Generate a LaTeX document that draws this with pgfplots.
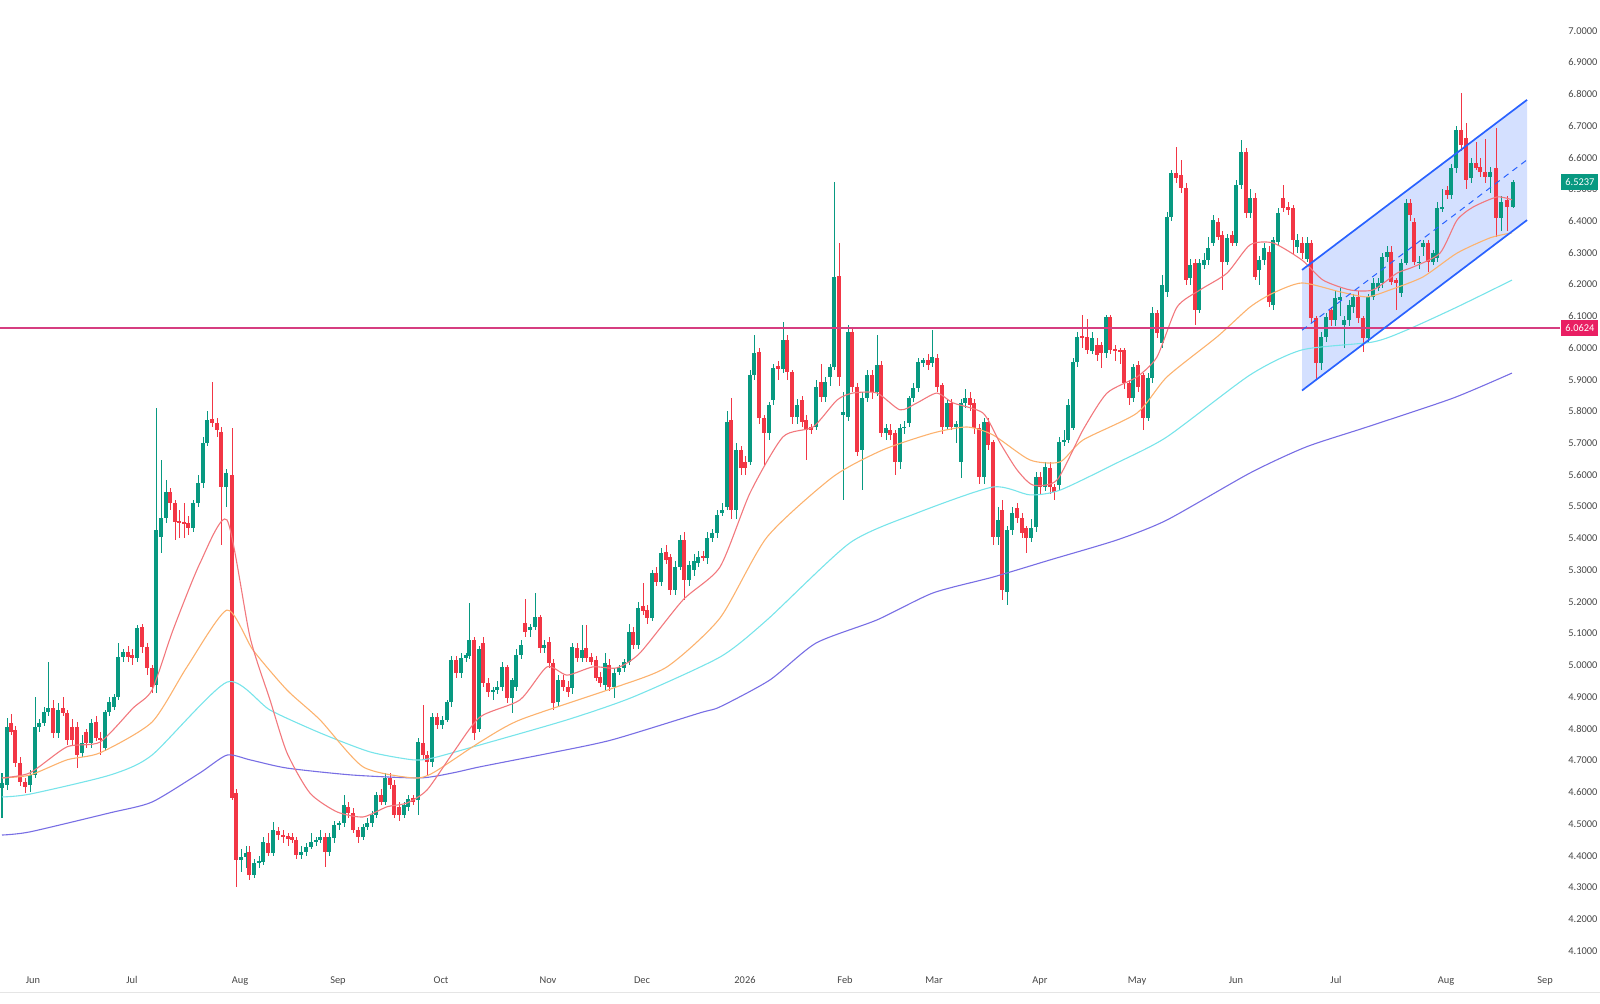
\documentclass[border=0pt]{standalone}
\usepackage{fontspec}
\setmainfont{Carlito}
\usepackage{pgfplots}
\pgfplotsset{compat=1.18}
\usepackage{pgfplotstable}
\definecolor{up}{RGB}{8,153,129}
\definecolor{dn}{RGB}{242,54,69}
\definecolor{maA}{RGB}{242,120,125}
\definecolor{maB}{RGB}{252,178,110}
\definecolor{maC}{RGB}{120,228,234}
\definecolor{maD}{RGB}{120,110,228}
\definecolor{hl}{RGB}{214,62,128}
\definecolor{hlbox}{RGB}{233,30,99}
\definecolor{chan}{RGB}{41,98,255}
\definecolor{lbl}{RGB}{70,70,70}

\pgfplotstableread{
x o h l c
2 4.613 4.66 4.52 4.629
7 4.623 4.834 4.607 4.806
11 4.819 4.845 4.78 4.790
15 4.796 4.81 4.68 4.692
20 4.692 4.71 4.62 4.632
25 4.632 4.645 4.598 4.617
30 4.623 4.67 4.600 4.654
35 4.654 4.900 4.645 4.806
39 4.806 4.83 4.79 4.819
44 4.819 4.87 4.81 4.853
48 4.853 5.010 4.84 4.866
53 4.866 4.89 4.77 4.787
58 4.787 4.88 4.77 4.859
63 4.866 4.90 4.84 4.850
67 4.850 4.86 4.75 4.765
72 4.806 4.83 4.75 4.765
77 4.806 4.82 4.677 4.717
82 4.724 4.78 4.71 4.755
86 4.790 4.80 4.74 4.755
91 4.755 4.83 4.74 4.819
96 4.822 4.84 4.76 4.771
100 4.771 4.79 4.717 4.765
105 4.739 4.86 4.73 4.853
109 4.853 4.90 4.84 4.884
114 4.869 4.91 4.86 4.900
118 4.900 5.07 4.89 5.026
123 5.026 5.05 5.01 5.042
128 5.042 5.06 5.01 5.026
132 5.032 5.05 5.00 5.023
137 5.023 5.127 5.01 5.118
142 5.121 5.13 5.04 5.058
147 5.058 5.07 4.97 4.992
152 4.992 5.00 4.913 4.932
156 4.938 5.811 4.913 5.426
161 5.404 5.647 5.354 5.464
166 5.464 5.584 5.45 5.546
170 5.546 5.56 5.49 5.511
175 5.511 5.52 5.395 5.452
179 5.456 5.49 5.40 5.449
184 5.452 5.51 5.40 5.445
188 5.449 5.47 5.41 5.433
193 5.433 5.52 5.42 5.511
198 5.511 5.60 5.50 5.575
203 5.575 5.72 5.56 5.701
207 5.701 5.80 5.69 5.773
212 5.776 5.893 5.75 5.764
217 5.764 5.78 5.72 5.742
221 5.735 5.75 5.379 5.562
226 5.562 5.62 5.50 5.606
232 5.600 5.748 4.576 4.582
236 4.598 4.61 4.300 4.387
241 4.387 4.42 4.35 4.396
246 4.396 4.43 4.36 4.408
249 4.412 4.43 4.324 4.339
254 4.339 4.39 4.33 4.377
259 4.377 4.40 4.36 4.383
263 4.380 4.46 4.37 4.443
268 4.440 4.47 4.40 4.408
273 4.408 4.506 4.40 4.481
278 4.478 4.49 4.45 4.466
283 4.466 4.48 4.44 4.459
288 4.462 4.47 4.43 4.453
292 4.459 4.47 4.44 4.450
296 4.450 4.46 4.39 4.402
301 4.402 4.43 4.39 4.412
306 4.412 4.44 4.40 4.428
311 4.428 4.47 4.42 4.443
316 4.443 4.46 4.43 4.450
320 4.450 4.48 4.44 4.459
325 4.459 4.47 4.364 4.412
329 4.412 4.47 4.40 4.459
334 4.456 4.51 4.44 4.497
339 4.497 4.51 4.48 4.503
344 4.503 4.591 4.49 4.560
348 4.554 4.57 4.52 4.535
353 4.535 4.55 4.47 4.481
358 4.481 4.49 4.44 4.459
363 4.459 4.50 4.45 4.490
367 4.490 4.52 4.48 4.503
372 4.503 4.54 4.49 4.528
376 4.528 4.60 4.52 4.591
381 4.591 4.61 4.56 4.569
385 4.569 4.66 4.56 4.645
390 4.645 4.66 4.61 4.623
394 4.623 4.64 4.52 4.528
399 4.554 4.57 4.51 4.528
404 4.528 4.57 4.52 4.560
408 4.554 4.59 4.54 4.579
413 4.582 4.59 4.56 4.569
418 4.576 4.77 4.528 4.758
423 4.755 4.875 4.70 4.717
427 4.717 4.73 4.654 4.695
432 4.695 4.85 4.68 4.837
437 4.837 4.85 4.80 4.812
442 4.812 4.84 4.80 4.828
447 4.828 4.89 4.82 4.884
451 4.884 5.03 4.87 5.017
456 5.017 5.03 4.96 4.976
461 4.976 5.04 4.96 5.023
466 5.023 5.04 5.01 5.032
469 5.029 5.196 5.02 5.080
474 5.080 5.09 4.765 4.787
479 4.800 5.06 4.79 5.050
483 5.070 5.09 4.93 4.944
488 4.944 4.96 4.90 4.916
493 4.916 4.93 4.89 4.922
497 4.922 4.95 4.91 4.932
502 4.932 5.01 4.92 4.995
507 4.995 5.00 4.88 4.897
512 4.897 4.96 4.85 4.954
516 4.932 5.05 4.92 5.032
521 5.032 5.08 5.02 5.064
525 5.133 5.21 5.09 5.105
530 5.111 5.13 5.09 5.121
535 5.121 5.228 5.11 5.152
540 5.152 5.16 5.04 5.054
544 5.054 5.08 5.04 5.064
549 5.073 5.09 4.99 5.007
553 5.007 5.02 4.859 4.881
558 4.884 4.97 4.87 4.954
563 4.954 4.97 4.92 4.932
568 4.932 4.95 4.90 4.916
572 4.928 5.07 4.91 5.058
577 5.054 5.07 5.01 5.023
582 5.023 5.127 5.01 5.048
586 5.054 5.127 5.01 5.023
591 5.026 5.04 5.00 5.010
596 5.017 5.03 4.95 4.960
600 4.963 4.98 4.93 4.944
605 4.938 5.04 4.92 5.007
609 5.001 5.02 4.92 4.932
614 4.932 4.99 4.897 4.976
619 4.979 5.00 4.97 4.992
624 4.992 5.02 4.98 5.010
629 5.010 5.13 5.00 5.105
633 5.105 5.12 5.05 5.064
638 5.064 5.20 5.05 5.181
643 5.187 5.26 5.16 5.171
647 5.174 5.19 5.13 5.149
652 5.149 5.30 5.14 5.291
656 5.291 5.31 5.25 5.262
661 5.262 5.37 5.25 5.354
666 5.357 5.38 5.32 5.332
670 5.341 5.35 5.22 5.237
675 5.237 5.33 5.22 5.310
680 5.310 5.41 5.30 5.395
684 5.395 5.42 5.206 5.269
689 5.269 5.33 5.25 5.316
694 5.300 5.35 5.28 5.330
698 5.322 5.36 5.31 5.341
703 5.344 5.36 5.33 5.338
707 5.338 5.42 5.32 5.401
712 5.401 5.43 5.39 5.417
717 5.417 5.49 5.40 5.474
722 5.480 5.51 5.47 5.490
727 5.500 5.80 5.49 5.767
731 5.773 5.842 5.46 5.490
736 5.490 5.70 5.46 5.679
741 5.679 5.69 5.60 5.622
745 5.641 5.66 5.60 5.622
750 5.641 5.93 5.63 5.915
754 5.915 6.041 5.90 5.984
759 5.987 6.00 5.76 5.779
764 5.779 5.79 5.631 5.732
769 5.732 5.83 5.71 5.820
773 5.836 5.95 5.82 5.937
778 5.943 5.96 5.90 5.934
783 5.934 6.082 5.92 6.025
787 6.025 6.04 5.90 5.924
792 5.924 5.93 5.76 5.783
797 5.783 5.84 5.76 5.820
802 5.836 5.85 5.75 5.767
806 5.773 5.79 5.647 5.742
811 5.751 5.76 5.73 5.742
816 5.751 5.90 5.74 5.877
821 5.893 5.95 5.83 5.846
825 5.846 5.91 5.83 5.893
830 5.909 5.95 5.88 5.940
834 5.940 6.523 5.93 6.224
839 6.227 6.331 5.88 5.909
843 5.789 5.86 5.521 5.798
848 5.783 6.072 5.77 6.050
852 6.050 6.06 5.86 5.877
857 5.877 5.89 5.66 5.672
862 5.679 5.86 5.553 5.842
867 5.842 5.93 5.83 5.915
872 5.915 5.93 5.84 5.861
877 5.861 6.041 5.85 5.946
881 5.946 5.96 5.72 5.732
886 5.732 5.76 5.71 5.748
890 5.742 5.76 5.71 5.726
895 5.732 5.74 5.600 5.641
900 5.641 5.76 5.62 5.748
904 5.748 5.77 5.73 5.751
909 5.764 5.85 5.75 5.842
913 5.842 5.89 5.83 5.874
918 5.874 5.97 5.86 5.956
923 5.953 5.97 5.94 5.962
928 5.962 5.98 5.93 5.947
932 5.953 6.057 5.94 5.972
937 5.968 5.98 5.86 5.877
942 5.883 5.89 5.73 5.751
947 5.751 5.84 5.74 5.827
951 5.827 5.84 5.74 5.751
956 5.751 5.77 5.70 5.761
961 5.640 5.84 5.59 5.827
965 5.827 5.87 5.81 5.842
970 5.842 5.86 5.80 5.820
974 5.827 5.84 5.73 5.748
979 5.748 5.76 5.57 5.593
984 5.593 5.78 5.57 5.767
988 5.767 5.78 5.68 5.694
993 5.704 5.71 5.38 5.404
998 5.404 5.50 5.38 5.458
1002 5.490 5.52 5.206 5.237
1007 5.231 5.44 5.190 5.426
1012 5.426 5.50 5.41 5.480
1017 5.496 5.51 5.45 5.464
1022 5.464 5.48 5.40 5.417
1026 5.433 5.44 5.354 5.401
1031 5.401 5.46 5.39 5.433
1036 5.436 5.61 5.42 5.593
1040 5.593 5.61 5.54 5.562
1045 5.562 5.64 5.55 5.625
1050 5.622 5.64 5.54 5.562
1054 5.562 5.57 5.52 5.546
1059 5.568 5.72 5.55 5.704
1064 5.704 5.74 5.69 5.710
1068 5.710 5.84 5.70 5.820
1073 5.748 5.97 5.74 5.956
1077 5.956 6.05 5.94 6.034
1082 6.038 6.104 6.00 6.031
1087 6.034 6.09 5.98 5.994
1092 5.990 6.05 5.98 6.030
1097 6.009 6.03 5.96 5.978
1101 6.009 6.02 5.937 5.984
1106 5.984 6.104 5.97 6.098
1110 6.098 6.104 5.98 5.994
1115 5.997 6.01 5.96 5.991
1120 5.994 6.00 5.95 5.988
1124 5.994 6.00 5.87 5.890
1129 5.890 5.90 5.820 5.842
1133 5.842 5.95 5.83 5.940
1138 5.946 5.96 5.86 5.877
1143 5.915 5.92 5.742 5.779
1148 5.779 5.92 5.77 5.906
1152 5.906 6.13 5.89 6.110
1157 6.110 6.12 6.03 6.047
1162 6.016 6.23 6.00 6.198
1167 6.177 6.43 6.16 6.413
1171 6.413 6.56 6.40 6.552
1176 6.552 6.634 6.52 6.536
1181 6.545 6.593 6.49 6.504
1186 6.504 6.52 6.20 6.214
1190 6.221 6.28 6.20 6.262
1195 6.268 6.28 6.072 6.120
1199 6.120 6.28 6.11 6.268
1204 6.262 6.30 6.25 6.277
1208 6.277 6.35 6.26 6.315
1213 6.330 6.42 6.32 6.403
1218 6.397 6.41 6.34 6.350
1222 6.356 6.37 6.183 6.271
1227 6.271 6.36 6.26 6.347
1232 6.356 6.37 6.32 6.331
1236 6.331 6.53 6.32 6.514
1241 6.514 6.656 6.50 6.618
1246 6.618 6.63 6.41 6.426
1250 6.426 6.50 6.41 6.473
1255 6.473 6.49 6.214 6.224
1259 6.246 6.29 6.20 6.277
1264 6.277 6.33 6.26 6.315
1269 6.302 6.32 6.13 6.145
1273 6.135 6.35 6.12 6.340
1278 6.334 6.44 6.32 6.426
1283 6.473 6.514 6.43 6.441
1288 6.444 6.46 6.42 6.435
1293 6.441 6.45 6.293 6.340
1297 6.318 6.36 6.30 6.340
1302 6.331 6.35 6.28 6.299
1307 6.280 6.35 6.27 6.330
1311 6.331 6.34 6.08 6.095
1316 6.095 6.10 5.899 5.953
1321 5.953 6.05 5.93 6.035
1326 6.035 6.11 6.02 6.098
1331 6.120 6.13 6.07 6.088
1335 6.088 6.18 6.07 6.158
1340 6.151 6.19 6.10 6.161
1344 6.072 6.10 6.00 6.088
1349 6.088 6.15 6.07 6.135
1353 6.129 6.17 6.11 6.161
1358 6.161 6.18 6.08 6.095
1363 6.095 6.10 5.988 6.032
1368 6.032 6.17 6.02 6.161
1373 6.161 6.22 6.15 6.205
1378 6.190 6.22 6.18 6.205
1382 6.205 6.30 6.19 6.287
1387 6.287 6.32 6.27 6.303
1391 6.303 6.32 6.20 6.208
1396 6.214 6.22 6.120 6.205
1401 6.173 6.28 6.16 6.268
1406 6.268 6.47 6.26 6.457
1410 6.457 6.47 6.40 6.419
1414 6.397 6.41 6.26 6.271
1419 6.268 6.29 6.25 6.271
1423 6.318 6.34 6.29 6.331
1428 6.331 6.34 6.240 6.271
1433 6.271 6.31 6.26 6.299
1437 6.283 6.46 6.27 6.441
1442 6.441 6.50 6.43 6.444
1447 6.498 6.51 6.47 6.482
1451 6.482 6.58 6.47 6.567
1456 6.567 6.70 6.55 6.687
1461 6.687 6.804 6.62 6.640
1466 6.662 6.71 6.50 6.529
1471 6.536 6.60 6.52 6.583
1476 6.583 6.65 6.56 6.567
1480 6.570 6.60 6.54 6.555
1485 6.555 6.66 6.52 6.539
1490 6.539 6.57 6.49 6.555
1496 6.567 6.693 6.35 6.410
1501 6.410 6.48 6.37 6.460
1507 6.466 6.48 6.37 6.444
1513 6.444 6.53 6.44 6.5237
}\candles

\begin{document}
\begin{tikzpicture}
\useasboundingbox (0pt,0pt) rectangle (800pt,502pt);
\begin{axis}[
  at={(0pt,18pt)}, anchor=south west,
  scale only axis, width=780pt, height=484pt,
  xmin=0, xmax=1560, ymin=4.046, ymax=7.0968,
  axis line style={draw=none},
  major tick length=0pt,
  clip=false,
  ytick distance=0.1,
  yticklabel pos=right,
  scaled y ticks=false,
  yticklabel style={anchor=west, xshift=4pt, inner sep=0pt,
    font=\fontsize{5.2}{6}\selectfont, text=lbl,
    /pgf/number format/.cd, fixed, fixed zerofill, precision=4, assume math mode=true},
  xtick={33,132,240,338,441,548,642,745,845,934,1040,1137,1236,1336,1446,1545},
  xticklabels={Jun,Jul,Aug,Sep,Oct,Nov,Dec,2026,Feb,Mar,Apr,May,Jun,Jul,Aug,Sep},
  xticklabel style={anchor=north, yshift=-4pt, inner sep=0pt,
    font=\fontsize{5.2}{6}\selectfont, text=lbl},
  candle/.style={draw=none, no markers, forget plot,
    error bars/y dir=both, error bars/y explicit, error bars/error mark=none},
]
% channel fill
\addplot[draw=none, fill=chan, fill opacity=0.2, forget plot]
  coordinates {(1302,5.866) (1527,6.403) (1527,6.782) (1302,6.246)} -- cycle;

% wicks
\addplot[candle, error bars/error bar style={line width=0.5pt, draw=up, solid}]
  table[x=x, y expr={0.5*(\thisrow{h}+\thisrow{l})}, y error expr={0.5*(\thisrow{h}-\thisrow{l})},
        restrict expr to domain={\thisrow{c}-\thisrow{o}}{0:10}] {\candles};
\addplot[candle, error bars/error bar style={line width=0.5pt, draw=dn, solid}]
  table[x=x, y expr={0.5*(\thisrow{h}+\thisrow{l})}, y error expr={0.5*(\thisrow{h}-\thisrow{l})},
        restrict expr to domain={\thisrow{o}-\thisrow{c}}{0.00001:10}] {\candles};
% bodies
\addplot[candle, error bars/error bar style={line width=1.85pt, draw=up, solid}]
  table[x=x, y expr={0.5*(\thisrow{o}+\thisrow{c})}, y error expr={max(0.5*abs(\thisrow{c}-\thisrow{o}),0.0018)},
        restrict expr to domain={\thisrow{c}-\thisrow{o}}{0:10}] {\candles};
\addplot[candle, error bars/error bar style={line width=1.85pt, draw=dn, solid}]
  table[x=x, y expr={0.5*(\thisrow{o}+\thisrow{c})}, y error expr={max(0.5*abs(\thisrow{c}-\thisrow{o}),0.0018)},
        restrict expr to domain={\thisrow{o}-\thisrow{c}}{0.00001:10}] {\candles};

% moving averages
\addplot[maD, line width=0.55pt, smooth, tension=0.4] coordinates {
(2,4.465) (30,4.475) (110,4.535) (152,4.569) (200,4.661) (227,4.717) (250,4.702)
(287,4.676) (353,4.654) (420,4.645) (453,4.661) (480,4.680) (551,4.724) (612,4.765)
(700,4.850) (720,4.869) (770,4.954) (816,5.070) (877,5.143) (933,5.228) (993,5.278)
(1050,5.332) (1117,5.395) (1167,5.458) (1250,5.606) (1306,5.688) (1367,5.751)
(1453,5.842) (1512,5.921)};
\addplot[maC, line width=0.55pt, smooth, tension=0.4] coordinates {
(2,4.585) (30,4.594) (110,4.654) (152,4.717) (227,4.947) (270,4.859) (320,4.787)
(370,4.727) (413,4.702) (433,4.708) (480,4.749) (567,4.828) (633,4.900) (720,5.026)
(767,5.143) (850,5.386) (917,5.480) (993,5.562) (1030,5.537) (1060,5.552) (1117,5.638)
(1167,5.720) (1250,5.915) (1302,5.994) (1373,6.019) (1407,6.057) (1457,6.129) (1512,6.214)};
\addplot[maB, line width=0.55pt, smooth, tension=0.4] coordinates {
(2,4.645) (30,4.654) (67,4.702) (100,4.724) (152,4.821) (187,4.995) (227,5.174)
(253,5.048) (287,4.922) (320,4.828) (363,4.680) (413,4.645) (433,4.661) (480,4.758)
(520,4.828) (613,4.928) (667,4.995) (720,5.149) (767,5.404) (833,5.594) (883,5.679)
(933,5.732) (967,5.751) (993,5.726) (1030,5.647) (1060,5.641) (1083,5.710) (1137,5.795)
(1167,5.909) (1217,6.035) (1250,6.129) (1273,6.173) (1302,6.205) (1340,6.177)
(1367,6.161) (1390,6.183) (1423,6.224) (1457,6.299) (1490,6.347) (1512,6.363)};
\addplot[maA, line width=0.55pt, smooth, tension=0.4] coordinates {
(2,4.645) (30,4.661) (67,4.743) (100,4.758) (133,4.865) (152,4.922) (173,5.111)
(200,5.322) (227,5.458) (250,5.089) (270,4.891) (287,4.724) (310,4.597) (337,4.538)
(363,4.522) (387,4.554) (407,4.566) (427,4.607) (453,4.724) (480,4.837) (520,4.891)
(547,4.995) (567,4.969) (593,4.995) (617,4.992) (640,5.039) (683,5.206) (720,5.310)
(750,5.543) (783,5.720) (813,5.751) (837,5.836) (853,5.858) (877,5.858) (900,5.805)
(917,5.827) (937,5.858) (953,5.827) (983,5.795) (1000,5.701) (1017,5.616) (1033,5.568)
(1057,5.584) (1083,5.742) (1107,5.858) (1137,5.909) (1157,5.972) (1177,6.129)
(1200,6.183) (1227,6.236) (1250,6.325) (1273,6.331) (1302,6.277) (1323,6.214)
(1350,6.183) (1373,6.183) (1397,6.236) (1413,6.255) (1440,6.299) (1457,6.403)
(1473,6.444) (1497,6.476) (1512,6.467)};

% horizontal level
\addplot[hl, line width=0.9pt] coordinates {(0,6.0624) (1560,6.0624)};

% channel lines
\addplot[chan, line width=0.85pt] coordinates {(1302,6.246) (1527,6.782)};
\addplot[chan, line width=0.85pt] coordinates {(1302,5.866) (1527,6.403)};
\addplot[chan, line width=0.5pt, dash pattern=on 3pt off 2.5pt] coordinates {(1302,6.056) (1527,6.593)};

% price labels
\node[fill=up, text=white, anchor=west, inner xsep=2pt, inner ysep=0pt, minimum height=8pt,
  font=\fontsize{5.2}{6}\selectfont] at (axis cs:1561,6.5237) {6.5237};
\node[fill=hlbox, text=white, anchor=west, inner xsep=2pt, inner ysep=0pt, minimum height=8pt,
  font=\fontsize{5.2}{6}\selectfont] at (axis cs:1561,6.0624) {6.0624};

\draw[black!10, line width=0.5pt] (axis cs:0,3.968) -- (axis cs:1600,3.968);
\end{axis}
\end{tikzpicture}
\end{document}
